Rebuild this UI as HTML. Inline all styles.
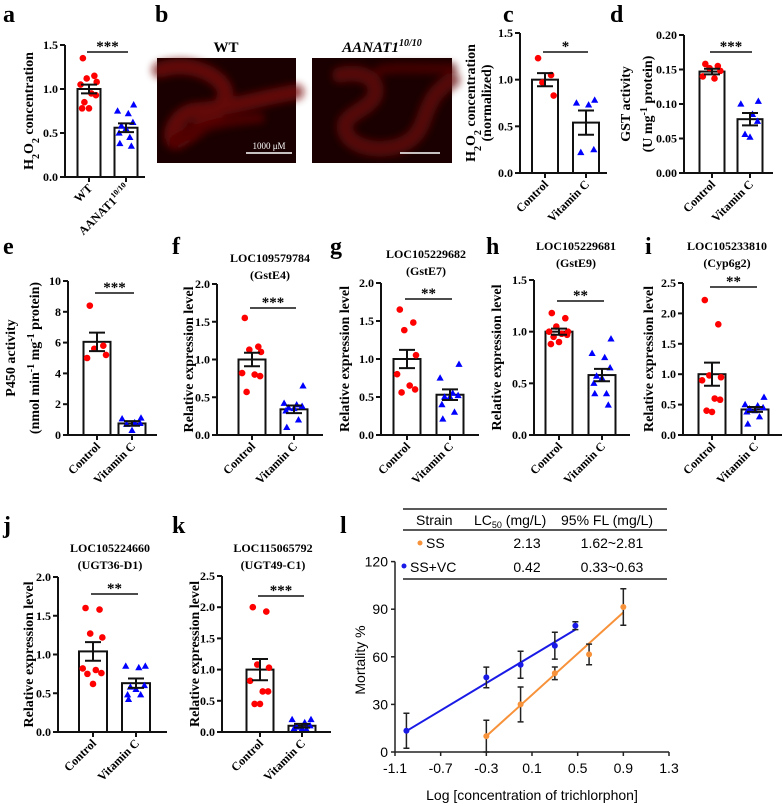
<!DOCTYPE html>
<html><head><meta charset="utf-8"><style>
body{margin:0;background:#fff}
svg{display:block}
.s{font-family:"Liberation Serif",serif;font-weight:bold}
.a{font-family:"Liberation Sans",sans-serif}
</style></head><body>
<svg id="fig" width="784" height="806" viewBox="0 0 784 806" xmlns="http://www.w3.org/2000/svg">
<defs>
<filter id="bl" x="-20%" y="-20%" width="140%" height="140%"><feGaussianBlur stdDeviation="4"/></filter>
</defs>
<g class="s" font-size="24">
<text x="3" y="22">a</text>
<text x="155" y="22">b</text>
<text x="503" y="22">c</text>
<text x="610" y="22">d</text>
<text x="3" y="254">e</text>
<text x="172" y="254">f</text>
<text x="330" y="254">g</text>
<text x="486" y="254">h</text>
<text x="645" y="254">i</text>
<text x="3" y="533">j</text>
<text x="172" y="533">k</text>
<text x="340" y="533">l</text>
</g>
<g>
<text class="s" x="226" y="52" font-size="15" text-anchor="middle">WT</text>
<text class="s" x="382" y="52" font-size="15" text-anchor="middle" font-style="italic">AANAT1<tspan font-size="10" dy="-6">10/10</tspan></text>
<rect x="157" y="58" width="139" height="105" fill="#1a0000"/>
<g filter="url(#bl)" fill="none" stroke-linecap="round" opacity="0.75">
<path d="M160 70 C190 60 220 75 225 90 C228 100 215 120 180 140 C165 150 170 110 200 110 C230 108 260 98 296 92" stroke="#7a0808" stroke-width="16"/>
<path d="M175 140 C200 125 230 120 260 118" stroke="#600606" stroke-width="10"/>
</g>
<line x1="246" y1="153" x2="292" y2="153" stroke="#fff" stroke-width="1.5"/>
<text x="269" y="149" font-size="9" fill="#fff" text-anchor="middle" font-family="Liberation Serif,serif">1000 μM</text>
<rect x="312" y="58" width="140" height="105" fill="#1a0000"/>
<g filter="url(#bl)" fill="none" stroke-linecap="round" opacity="0.75">
<path d="M340 75 C360 70 380 78 375 95 C370 110 340 115 345 130 C350 150 390 155 410 140 C430 125 420 100 452 80" stroke="#6a0808" stroke-width="16"/>
<path d="M380 70 C400 66 430 70 452 68" stroke="#550606" stroke-width="10"/>
</g>
<line x1="400" y1="153" x2="440" y2="153" stroke="#fff" stroke-width="1.5"/>
</g>
<g id="bars"></g>
<g id="lc"></g>
</svg>
<script>
// ---- bar chart data ----
const groups = ["Control", "Vitamin C"];
const aCtrl=[1.35,1.15,1.12,1.08,1.05,0.95,0.93,0.85,0.78,0.78];
const aTrt=[0.82,0.75,0.72,0.62,0.58,0.55,0.5,0.45,0.38,0.35];
const aMean=[1.0,0.56]; const aSem=[0.05,0.05];
const cCtrl=[1.23,1.05,0.97,0.83]; const cTrt=[0.78,0.75,0.73,0.25,0.22];
const cMean=[1.0,0.54]; const cSem=[0.07,0.13];
const dCtrl=[0.158,0.155,0.152,0.148,0.14,0.137]; const dTrt=[0.104,0.1,0.085,0.075,0.056,0.052];
const dMean=[0.147,0.078]; const dSem=[0.004,0.009];
const eCtrl=[8.4,5.8,5.6,5.2,5.0]; const eTrt=[1.1,1.05,0.8,0.75,0.7,0.3];
const eMean=[6.05,0.75]; const eSem=[0.6,0.15];
const fCtrl=[1.55,1.17,1.13,1.1,0.82,0.8,0.78,0.57]; const fTrt=[0.65,0.42,0.4,0.38,0.36,0.35,0.32,0.2,0.1];
const fMean=[1.0,0.34]; const fSem=[0.09,0.05];
const gCtrl=[1.65,1.48,1.38,1.05,0.8,0.65,0.6,0.56]; const gTrt=[0.93,0.75,0.55,0.52,0.5,0.5,0.4,0.3,0.21];
const gMean=[1.0,0.53]; const gSem=[0.12,0.07];
const hCtrl=[1.18,1.13,1.05,1.0,1.0,0.98,0.97,0.95,0.9,0.88]; const hTrt=[0.93,0.79,0.75,0.65,0.57,0.55,0.5,0.4,0.4,0.29];
const hMean=[1.0,0.58]; const hSem=[0.03,0.06];
const iCtrl=[2.22,1.82,0.98,0.95,0.9,0.6,0.58,0.4,0.38]; const iTrt=[0.62,0.5,0.48,0.45,0.43,0.4,0.38,0.3,0.18];
const iMean=[1.0,0.42]; const iSem=[0.19,0.04];
const jCtrl=[1.6,1.58,1.27,1.22,0.82,0.8,0.76,0.75,0.62]; const jTrt=[0.85,0.85,0.83,0.6,0.58,0.55,0.48,0.48,0.42];
const jMean=[1.04,0.63]; const jSem=[0.12,0.06];
const kCtrl=[2.0,1.93,1.08,1.03,0.82,0.65,0.65,0.45,0.45]; const kTrt=[0.2,0.2,0.15,0.1,0.08,0.05,0.05,0.04,0.03];
const kMean=[1.0,0.1]; const kSem=[0.17,0.03];
// ---- LC50 data ----
const doseSS=[-0.3,0.0,0.3,0.6,0.9]; const mortSS=[10,30,49.6,61.5,91.4]; const errSS=[10,11,4,6.5,11.5];
const doseVC=[-1.0,-0.3,0.0,0.3,0.48]; const mortVC=[13.4,47,55,67,79.6]; const errVC=[11,6.5,8.5,8.5,2.5];
const fitSS=[29.5,65]; const fitVC=[56.4,43.2]; // intercept, slope
const xTicks=[-1.1,-0.7,-0.3,0.1,0.5,0.9,1.3]; const yTicks=[0,30,60,90,120];

const NS="http://www.w3.org/2000/svg";
function mk(parent,tag,attrs,txt){const e=document.createElementNS(NS,tag);for(const k in attrs)e.setAttribute(k,attrs[k]);if(txt!=null)e.textContent=txt;parent.appendChild(e);return e;}
const jit=[-8,7,-3,10,-11,3,9,-6,0,-9,5];

const panels=[
 {id:"a",ax:65,y0:177,yt:45,max:1.5,step:0.5,dec:1,xe:145,c:[89,126],bw:23,ctrl:aCtrl,trt:aTrt,mean:aMean,sem:aSem,sy:52,st:"***",xl:["WT","AANAT1"],yl:[["H","2","O","2"," concentration"]],ylx:[33]},
 {id:"c",ax:520,y0:173,yt:33,max:1.5,step:0.5,dec:1,xe:607,c:[545,586],bw:26,ctrl:cCtrl,trt:cTrt,mean:cMean,sem:cSem,sy:52,st:"*",yl:[["H","2","O","2"," concentration"],["(normalized)"]],ylx:[475,491]},
 {id:"d",ax:684,y0:173,yt:35,max:0.2,step:0.05,dec:2,xe:773,c:[712,750],bw:25,ctrl:dCtrl,trt:dTrt,mean:dMean,sem:dSem,sy:52,st:"***",yl:[["GST activity"],["(U mg","-1"," protein)"]],ylx:[630,652]},
 {id:"e",ax:68,y0:435,yt:281,max:10,step:2,dec:0,xe:157,c:[97,132],bw:27,ctrl:eCtrl,trt:eTrt,mean:eMean,sem:eSem,sy:293,st:"***",yl:[["P450 activity"],["(nmol min","-1"," mg","-1"," protein)"]],ylx:[15,39]},
 {id:"f",ax:217,y0:435,yt:284,max:2,step:0.5,dec:1,xe:323,c:[252,294],bw:27,ctrl:fCtrl,trt:fTrt,mean:fMean,sem:fSem,sy:308,st:"***",yl:[["Relative expression level"]],ylx:[193],t:["LOC109579784","(GstE4)"],tx:270,ty:262},
 {id:"g",ax:381,y0:435,yt:283,max:2,step:0.5,dec:1,xe:479,c:[407,450],bw:27,ctrl:gCtrl,trt:gTrt,mean:gMean,sem:gSem,sy:299,st:"**",yl:[["Relative expression level"]],ylx:[349],t:["LOC105229682","(GstE7)"],tx:426,ty:258},
 {id:"h",ax:534,y0:435,yt:280,max:1.5,step:0.5,dec:1,xe:630,c:[559,602],bw:27,ctrl:hCtrl,trt:hTrt,mean:hMean,sem:hSem,sy:301,st:"**",yl:[["Relative expression level"]],ylx:[501],t:["LOC105229681","(GstE9)"],tx:576,ty:250},
 {id:"i",ax:683,y0:435,yt:283,max:2.5,step:0.5,dec:1,xe:782,c:[712,755],bw:27,ctrl:iCtrl,trt:iTrt,mean:iMean,sem:iSem,sy:287,st:"**",yl:[["Relative expression level"]],ylx:[653],t:["LOC105233810","(Cyp6g2)"],tx:727,ty:250},
 {id:"j",ax:58,y0:732,yt:577,max:2,step:0.5,dec:1,xe:167,c:[93,136],bw:28,ctrl:jCtrl,trt:jTrt,mean:jMean,sem:jSem,sy:594,st:"**",yl:[["Relative expression level"]],ylx:[33],t:["LOC105224660","(UGT36-D1)"],tx:110,ty:552},
 {id:"k",ax:222,y0:732,yt:576,max:2.5,step:0.5,dec:1,xe:331,c:[260,302],bw:27,ctrl:kCtrl,trt:kTrt,mean:kMean,sem:kSem,sy:596,st:"***",yl:[["Relative expression level"]],ylx:[199],t:["LOC115065792","(UGT49-C1)"],tx:273,ty:552}
];
const root=document.getElementById("bars");
panels.forEach(p=>{
 const g=mk(root,"g",{class:"s"});
 
 
 const Y=v=>p.y0-v/p.max*(p.y0-p.yt);
 [0,1].forEach(i=>{
  const r=mk(g,"rect",{x:p.c[i]-p.bw/2,y:Y(p.mean[i]),width:p.bw,height:p.y0-Y(p.mean[i]),fill:"#fff",stroke:"#111","stroke-width":2});
  
  
 });
 p.ctrl.forEach((v,k)=>{const c=mk(g,"circle",{cx:p.c[0]+jit[k%jit.length]*p.bw/30,cy:Y(v),r:3.3,fill:"#f00"});
  
  });
 p.trt.forEach((v,k)=>{const x=p.c[1]+jit[(k+3)%jit.length]*p.bw/30,y=Y(v);
  const t=mk(g,"polygon",{points:`${x},${y-3.8} ${x-3.6},${y+2.6} ${x+3.6},${y+2.6}`,fill:"#00f"});
  
  });
 [0,1].forEach(i=>{const x=p.c[i],a=Y(p.mean[i]+p.sem[i]),b=Y(p.mean[i]-p.sem[i]);
  const e=mk(g,"path",{d:`M${x} ${a}V${b}M${x-8} ${a}H${x+8}M${x-8} ${b}H${x+8}`,stroke:"#111","stroke-width":2,fill:"none"});
  
  });
 const ax=mk(g,"path",{d:`M${p.ax} ${p.yt}V${p.y0}H${p.xe}`,stroke:"#111","stroke-width":2,fill:"none"});
 
 
 const n=Math.round(p.max/p.step);
 for(let k=0;k<=n;k++){const v=k*p.step,y=Y(v);
  mk(g,"line",{x1:p.ax-5,y1:y,x2:p.ax,y2:y,stroke:"#111","stroke-width":2});
  const tl=mk(g,"text",{x:p.ax-7,y:y+4,"font-size":12,"text-anchor":"end"},v.toFixed(p.dec));
  
  }
 [0,1].forEach(i=>{mk(g,"line",{x1:p.c[i],y1:p.y0,x2:p.c[i],y2:p.y0+5,stroke:"#111","stroke-width":2});
  const lbl=(p.xl?p.xl[i]:groups[i]);
  const t=mk(g,"text",{x:p.c[i]+4,y:p.y0+12,"font-size":12,"text-anchor":"end",transform:`rotate(-45 ${p.c[i]+4} ${p.y0+12})`},lbl);
  if(p.xl&&i==1){mk(t,"tspan",{"font-size":8,dy:-5},"10/10");}
  
  });
 mk(g,"line",{x1:p.c[0]-2,y1:p.sy,x2:p.c[1]+2,y2:p.sy,stroke:"#111","stroke-width":1.5});
 const s=mk(g,"text",{x:(p.c[0]+p.c[1])/2,y:p.sy-1,"font-size":15,"text-anchor":"middle"},p.st);
 
 
 const cy=(p.yt+p.y0)/2;
 p.yl.forEach((parts,li)=>{const x=p.ylx[li];
  const t=mk(g,"text",{x:x,y:cy,"font-size":14,"text-anchor":"middle",transform:`rotate(-90 ${x} ${cy})`});
  
  
  parts.forEach((s2)=>{const isSub=/^[0-9]$/.test(s2),isSup=s2=="-1";
   mk(t,"tspan",isSub?{"font-size":10,"baseline-shift":"sub"}:isSup?{"font-size":10,"baseline-shift":"super"}:{},s2);});
 });
 if(p.t){p.t.forEach((s3,li)=>{const tt=mk(g,"text",{x:p.tx,y:p.ty+li*17,"font-size":12,"text-anchor":"middle"},s3);
  
  });}
});

// ---- panel l ----
const L=document.getElementById("lc");
L.setAttribute('class','a');
const X=v=>395+(v+1.1)/2.4*274, Yl=v=>752-v/120*190.4;
[509,530,579].forEach(y=>mk(L,"line",{x1:403,y1:y,x2:667,y2:y,stroke:"#222","stroke-width":1.5}));
mk(L,"text",{x:416,y:525,"font-size":14},"Strain");
const lc=mk(L,"text",{x:474,y:525,"font-size":14},"LC");mk(lc,"tspan",{"font-size":9,dy:3},"50");mk(lc,"tspan",{dy:-3}," (mg/L)");
mk(L,"text",{x:561,y:525,"font-size":14},"95% FL (mg/L)");
mk(L,"circle",{cx:420,cy:543,r:2.5,fill:"#f7923a"});
mk(L,"text",{x:426,y:548,"font-size":14},"SS");
mk(L,"text",{x:527,y:548,"font-size":14,"text-anchor":"middle"},"2.13");
mk(L,"text",{x:612,y:548,"font-size":14,"text-anchor":"middle"},"1.62~2.81");
mk(L,"circle",{cx:404,cy:566,r:2.5,fill:"#1a1ae6"});
mk(L,"text",{x:410,y:572,"font-size":14},"SS+VC");
mk(L,"text",{x:527,y:572,"font-size":14,"text-anchor":"middle"},"0.42");
mk(L,"text",{x:612,y:572,"font-size":14,"text-anchor":"middle"},"0.33~0.63");
const la=mk(L,"path",{d:`M${X(-1.1)} ${Yl(120)}V752H${X(1.3)}`,stroke:"#222","stroke-width":1.5,fill:"none"});


yTicks.forEach(v=>{mk(L,"line",{x1:X(-1.1)-4,y1:Yl(v),x2:X(-1.1),y2:Yl(v),stroke:"#222","stroke-width":1.5});
 const t=mk(L,"text",{x:X(-1.1)-7,y:Yl(v)+5,"font-size":14,"text-anchor":"end"},String(v));
 
 });
xTicks.forEach(v=>{mk(L,"line",{x1:X(v),y1:752,x2:X(v),y2:756,stroke:"#222","stroke-width":1.5});
 const t=mk(L,"text",{x:X(v),y:773,"font-size":14,"text-anchor":"middle"},v.toFixed(1));
 
 });
const xt=mk(L,"text",{x:532,y:800,"font-size":14,"text-anchor":"middle"},"Log [concentration of trichlorphon]");


const yt=mk(L,"text",{x:365,y:660,"font-size":14,"text-anchor":"middle",transform:"rotate(-90 365 660)"},"Mortality %");


function series(dose,mort,err,fit,col,name){
 const x0=dose[0],x1=dose[dose.length-1];
 const ln=mk(L,"line",{x1:X(x0),y1:Yl(fit[0]+fit[1]*x0),x2:X(x1),y2:Yl(fit[0]+fit[1]*x1),stroke:col,"stroke-width":2});
 
 
 dose.forEach((d,i)=>{const x=X(d),a=Yl(mort[i]+err[i]),b=Yl(Math.max(0,mort[i]-err[i]));
  mk(L,"path",{d:`M${x} ${a}V${b}M${x-3} ${a}H${x+3}M${x-3} ${b}H${x+3}`,stroke:"#222","stroke-width":1.5,fill:"none"});
  const c=mk(L,"circle",{cx:x,cy:Yl(mort[i]),r:3,fill:col});
  
  });
}
series(doseVC,mortVC,errVC,fitVC,"#1a1ae6","ss-vc");
series(doseSS,mortSS,errSS,fitSS,"#f7923a","ss");
</script>
</body></html>
